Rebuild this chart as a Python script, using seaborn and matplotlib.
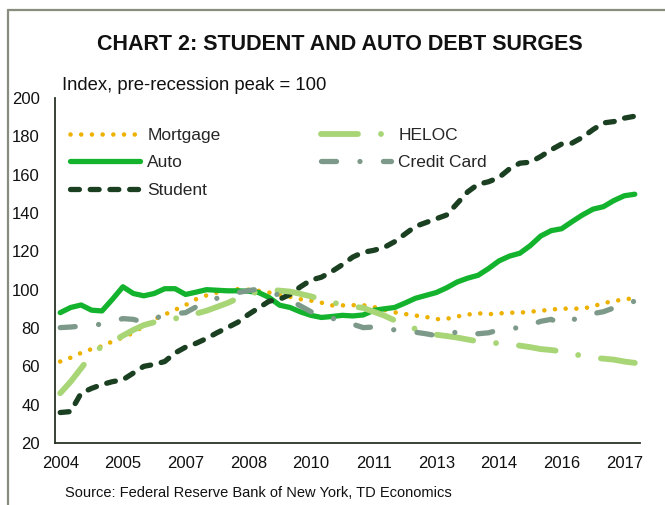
import matplotlib
matplotlib.use("Agg")
import matplotlib.pyplot as plt
from matplotlib.lines import Line2D
import pandas as pd
import seaborn as sns

# Quarterly observations, 2004Q1 - 2017Q4 (index, pre-recession peak = 100)
years = list(range(2004, 2018))
quarters = [f"{y}Q{q}" for y in years for q in range(1, 5)]

mortgage = [62.5, 64.5, 67.0, 69.0, 70.5, 73.0, 75.0, 77.5, 81.0, 84.5, 87.0, 89.5,
            92.0, 95.0, 97.0, 98.5, 99.5, 100.3, 100.0, 99.4, 98.5, 97.5, 96.2, 95.0,
            94.3, 93.2, 91.8, 91.8, 91.9, 91.9, 91.0, 89.5, 88.2, 87.3, 86.5, 85.8,
            84.6, 84.8, 86.0, 87.0, 87.7, 87.2, 87.6, 88.0, 88.0, 88.5, 89.0, 89.6,
            90.1, 90.1, 90.1, 91.3, 93.0, 94.0, 95.0, 95.5]

auto = [88.0, 90.7, 92.0, 89.3, 88.9, 95.0, 101.5, 98.0, 96.8, 98.0, 100.5, 100.5,
        97.5, 98.7, 100.0, 99.7, 99.4, 99.4, 99.2, 98.5, 95.9, 91.9, 90.7, 88.4,
        86.6, 85.5, 86.0, 86.6, 86.3, 86.8, 89.2, 90.0, 90.7, 93.0, 95.5, 97.0,
        98.5, 101.0, 104.0, 106.0, 107.5, 111.0, 115.0, 117.5, 119.0, 123.0, 128.0, 130.8,
        131.8, 135.5, 139.0, 142.0, 143.3, 146.5, 149.0, 149.8]

student = [35.9, 36.4, 46.0, 48.5, 50.5, 52.0, 53.0, 56.5, 60.0, 61.0, 62.5, 67.0,
           70.0, 72.0, 74.5, 77.5, 80.2, 83.0, 87.0, 90.5, 94.0, 95.0, 97.5, 101.5,
           105.0, 106.5, 109.5, 113.0, 117.0, 119.5, 120.5, 122.0, 125.0, 129.0, 133.0, 135.0,
           137.0, 139.0, 145.0, 151.0, 155.0, 156.3, 158.5, 163.0, 166.0, 166.5, 169.5, 173.0,
           176.0, 176.5, 179.5, 183.5, 187.0, 187.7, 189.5, 190.5]

heloc = [46.0, 52.0, 59.0, 66.0, 70.5, 73.0, 76.0, 79.0, 81.5, 83.0, 84.5, 85.0,
         85.5, 87.5, 89.0, 91.0, 93.0, 95.5, 97.5, 99.0, 100.0, 99.5, 99.0, 97.8,
         96.5, 95.0, 93.5, 92.0, 91.2, 90.5, 88.5, 86.5, 84.0, 81.9, 79.5, 77.5,
         76.5, 75.8, 75.0, 74.0, 73.0, 72.5, 72.0, 71.4, 70.8, 70.0, 69.0, 68.5,
         67.8, 66.5, 65.5, 64.5, 64.0, 63.5, 62.5, 61.8]

credit_card = [80.2, 80.5, 81.0, 81.5, 82.0, 83.5, 84.9, 84.5, 83.0, 85.0, 86.6, 87.5,
               88.0, 91.0, 93.5, 95.5, 97.0, 98.5, 99.5, 100.3, 99.0, 97.0, 94.5, 91.5,
               88.5, 86.0, 85.0, 84.2, 82.0, 80.2, 80.5, 80.0, 79.0, 78.0, 77.8, 77.0,
               76.0, 76.5, 78.0, 78.5, 77.0, 77.5, 79.0, 80.0, 80.0, 81.5, 83.5, 84.5,
               82.0, 84.0, 86.6, 87.5, 88.5, 90.5, 92.5, 94.0]

series_names = ["Mortgage", "Auto", "Student", "HELOC", "Credit Card"]
tick_labels = ["2004", "2005", "2007", "2008", "2010", "2011", "2013", "2014", "2016", "2017"]
tick_every = 6
y_ticks = [20, 40, 60, 80, 100, 120, 140, 160, 180, 200]

df = pd.DataFrame({
    "quarter": quarters,
    "pos": range(len(quarters)),
    "Mortgage": mortgage,
    "Auto": auto,
    "Student": student,
    "HELOC": heloc,
    "Credit Card": credit_card,
})

styles = {
    "Mortgage": dict(color="#EDB100", linewidth=3.3,
                     linestyle=(0, (0.01, 7.7)), dash_capstyle="round"),
    "Auto": dict(color="#14B32E", linewidth=3.8, linestyle="-",
                 solid_capstyle="round", solid_joinstyle="round"),
    "Student": dict(color="#1A3F21", linewidth=3.8,
                    linestyle=(0, (6.4, 7.8)), dash_capstyle="round"),
    "HELOC": dict(color="#A8D576", linewidth=4.2,
                  linestyle=(0, (26.6, 16.6, 0.01, 16.6)), dash_capstyle="round"),
    "Credit Card": dict(color="#7D998A", linewidth=3.8,
                        linestyle=(0, (10.8, 16.9, 0.01, 16.9)), dash_capstyle="round"),
}

sns.set_theme(style="white")
plt.rcParams["font.family"] = ["Liberation Sans", "DejaVu Sans"]
plt.rcParams["lines.scale_dashes"] = False

fig = plt.figure(figsize=(6.65, 5.05), dpi=100)
ax = fig.add_axes([55 / 665, 62 / 505, 585 / 665, 345 / 505])

for name in series_names:
    sns.lineplot(data=df, x="pos", y=name, ax=ax, label=name, **styles[name])

ax.set_xlim(-0.5, len(quarters) - 0.5)
ax.set_ylim(20, 200)
ax.set_xticks(range(0, len(quarters), tick_every))
ax.set_xticklabels(tick_labels)
ax.set_yticks(y_ticks)
ax.set_xlabel("")
ax.set_ylabel("")
ax.tick_params(axis="both", length=0, labelsize=12, colors="#111111")
ax.tick_params(axis="x", pad=9)
ax.tick_params(axis="y", pad=11)

for side in ("top", "right"):
    ax.spines[side].set_visible(False)
for side in ("left", "bottom"):
    ax.spines[side].set_color("#2a3328")
    ax.spines[side].set_linewidth(1.3)

ax.legend(loc="upper left", bbox_to_anchor=(70 / 665, 1 - 128 / 505),
          bbox_transform=fig.transFigure, ncol=2, frameon=False, fontsize=12.5,
          handlelength=4.03, handletextpad=0.42, columnspacing=5.8,
          labelspacing=0.7, borderpad=0, borderaxespad=0)

fig.text(340 / 665, 1 - 45 / 505, "CHART 2: STUDENT AND AUTO DEBT SURGES",
         ha="center", va="center", fontsize=15.5, fontweight="bold", color="#111111")
fig.text(62 / 665, 1 - 85 / 505, "Index, pre-recession peak = 100",
         ha="left", va="center", fontsize=13.3, color="#111111")
fig.text(65 / 665, 1 - 493 / 505, "Source: Federal Reserve Bank of New York, TD Economics",
         ha="left", va="center", fontsize=10.5, color="#111111")

# outer frame (top and left edges)
frame_color = "#878d7f"
fig.add_artist(Line2D([8 / 665, 1.0], [1 - 10 / 505, 1 - 10 / 505],
                      transform=fig.transFigure, color=frame_color, linewidth=1.6))
fig.add_artist(Line2D([8 / 665, 8 / 665], [0.0, 1 - 10 / 505],
                      transform=fig.transFigure, color=frame_color, linewidth=1.6))

fig.savefig("out.png", dpi=100)
